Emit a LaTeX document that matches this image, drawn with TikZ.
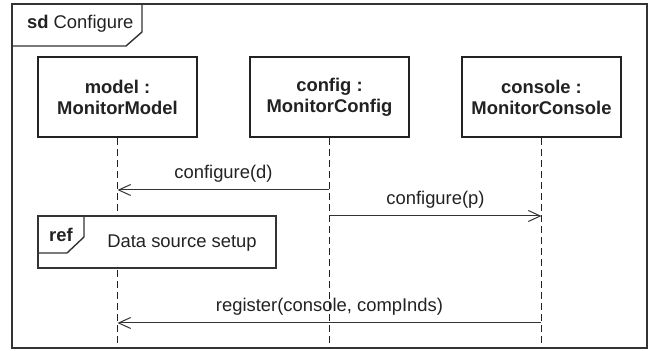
\documentclass[tikz,border=0pt]{standalone}
\usepackage{fontspec}
\setmainfont{Liberation Sans}
\usepackage{xcolor}
\usepackage{tikz}
\usetikzlibrary{arrows.meta, positioning}

\definecolor{ink}{HTML}{222222}
\definecolor{wire}{HTML}{333333}

\begin{document}
\begin{tikzpicture}
	[
		x=0.5pt, y=-0.5pt,
		font=\fontsize{9.2}{10.5}\selectfont, text=ink,
		objbox/.style={draw=ink, line width=0.8pt, fill=white, minimum width=79.5pt, minimum height=40pt, align=center, font=\fontsize{9.2}{10.5}\selectfont\bfseries, inner sep=0pt},
		lifeline/.style={draw=ink, line width=0.5pt, dash pattern=on 3.5pt off 2pt},
		msg/.style={draw=wire, line width=0.5pt, -{Straight Barb[length=6pt, width=5.5pt, line width=0.5pt]}},
		frameline/.style={draw=wire, line width=0.7pt}
	]
	\useasboundingbox (0,0) rectangle (650,351);

	% sd frame
	\draw[frameline] (12,4) rectangle (647,348);
	\draw[frameline] (12,46) -- (126,46) -- (142,32) -- (142,4);
	\node[anchor=west] (sdlabel) at (20,24) {\textbf{sd} Configure};

	% participants
	\node[objbox] (model) at (117.5,97) {model :\\MonitorModel};
	\node[objbox] (config) at (329.5,97) {config :\\MonitorConfig};
	\node[objbox] (console) at (541.5,97) {console :\\MonitorConsole};

	\coordinate (modelEnd) at (117.5,348);
	\coordinate (configEnd) at (329.5,348);
	\coordinate (consoleEnd) at (541.5,348);

	\draw[lifeline] (model) -- (modelEnd);
	\draw[lifeline] (config) -- (configEnd);
	\draw[lifeline] (console) -- (consoleEnd);

	% messages
	\coordinate (d1) at (329.5,190);
	\coordinate (d2) at (117.5,190);
	\coordinate (p1) at (329.5,216);
	\coordinate (p2) at (541.5,216);
	\coordinate (r1) at (541.5,323);
	\coordinate (r2) at (117.5,323);

	\draw[msg] (d1) -- node[above=0.5pt] (dlabel) {configure(d)} (d2);
	\draw[msg] (p1) -- node[above=0.5pt] (plabel) {configure(p)} (p2);
	\draw[msg] (r1) -- node[above=0.5pt] (rlabel) {register(console, compInds)} (r2);

	% ref fragment
	\draw[frameline, fill=white] (38,216) rectangle (276,268);
	\draw[frameline] (38,253) -- (67,253) -- (84,237) -- (84,216);
	\node (reftag) at (61,235) {\textbf{ref}};
	\node (refbody) at (182,243) {Data source setup};
\end{tikzpicture}
\end{document}
